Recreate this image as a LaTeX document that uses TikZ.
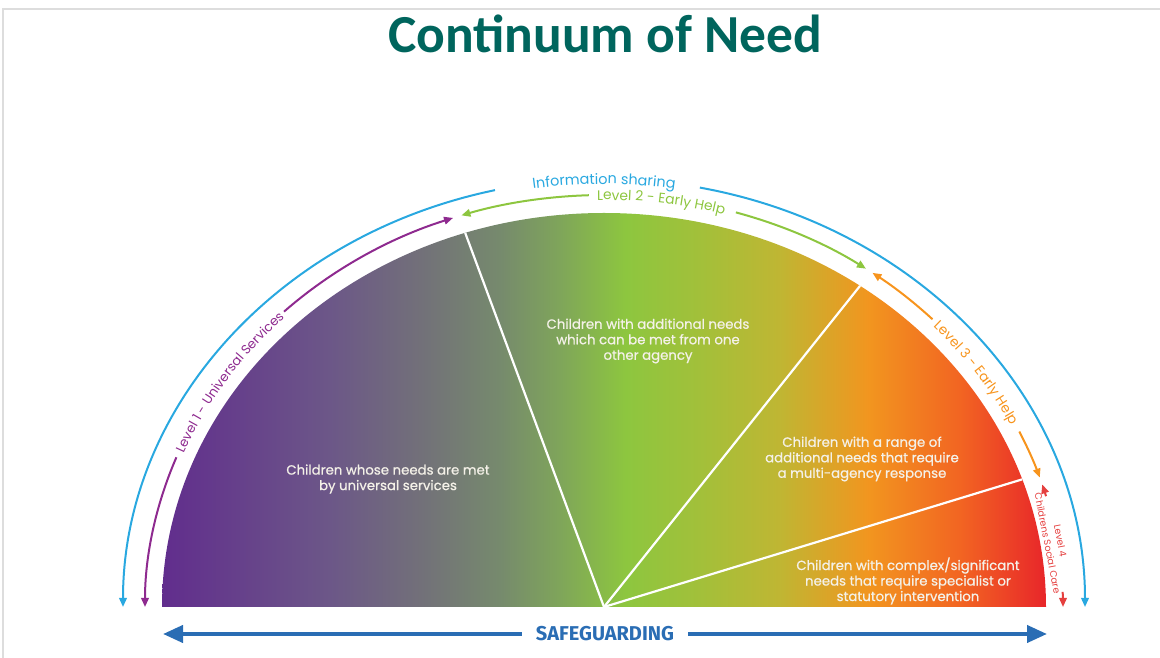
\documentclass[tikz,border=0pt]{standalone}
\usepackage{fontspec}
\setmainfont{Poppins}
\newfontfamily\popbody[FakeBold=0.7]{Poppins}
\newfontfamily\titlefont{Carlito}
\newfontfamily\sgfont{Fira Sans}
\usetikzlibrary{arrows.meta,decorations.text}
\definecolor{titleteal}{HTML}{00655D}
\definecolor{bordergray}{HTML}{DDDDDD}
\definecolor{infoblue}{HTML}{29A8E0}
\definecolor{lvpurple}{HTML}{8E2A8F}
\definecolor{lvgreen}{HTML}{8DC63F}
\definecolor{lvorange}{HTML}{F7941D}
\definecolor{lvred}{HTML}{E5403F}
\definecolor{sgblue}{HTML}{2A6DB4}
\definecolor{txtwhite}{HTML}{F4F1E8}
\definecolor{s1}{HTML}{612D8D}
\definecolor{s2}{HTML}{6C5788}
\definecolor{s3}{HTML}{727079}
\definecolor{s4}{HTML}{768A6D}
\definecolor{s5}{HTML}{7FA55A}
\definecolor{s6}{HTML}{8DC63F}
\definecolor{s7}{HTML}{A2C03A}
\definecolor{s8}{HTML}{BFB633}
\definecolor{s9}{HTML}{F2951F}
\definecolor{s10}{HTML}{F26522}
\definecolor{s11}{HTML}{E8262A}
\pgfdeclarehorizontalshading{needshade}{100bp}{color(0bp)=(s1); color(25bp)=(s1); color(34.5bp)=(s2); color(39.6bp)=(s3); color(44.1bp)=(s4); color(47.5bp)=(s5); color(51.2bp)=(s6); color(55.4bp)=(s7); color(59.9bp)=(s8); color(65bp)=(s9); color(70.1bp)=(s10); color(75bp)=(s11); color(100bp)=(s11)}
\tikzset{
  divider/.style={draw=white, line width=2.2pt},
  piece/.style={text=txtwhite, align=center, font=\popbody\fontsize{13.3}{15.5}\selectfont, inner sep=0pt},
  curved/.style={decorate, decoration={text along path, text align=center, text color=#1}},
}
\begin{document}
\begin{tikzpicture}[x=1pt,y=1pt,
  >={Triangle[length=9pt,width=7.5pt]}]
\useasboundingbox (0,0) rectangle (1160,658);
\draw[bordergray, line width=2pt] (3,0) -- (3,649) -- (1160,649);
\node[text=titleteal, font=\titlefont\bfseries\fontsize{53.5}{53.5}\selectfont, anchor=base, inner sep=0pt] (title) at (605,605) {Continuum of Need};

\begin{scope}[shift={(604,51)}]
  \coordinate (C) at (0,0);
  \shade[shading=needshade] (442,0) arc[start angle=0,end angle=180,x radius=442,y radius=394] -- cycle;
  \coordinate (d1) at (108.3:442pt and 394pt);
  \coordinate (d2) at (54.6:442pt and 394pt);
  \coordinate (d3) at (18.9:442pt and 394pt);
  \draw[divider] (C) -- (d1);
  \draw[divider] (C) -- (d2);
  \draw[divider] (C) -- (d3);

  % information sharing (outer blue)
  \draw[infoblue, line width=2pt, ->] (103.1:481pt and 428pt) arc[start angle=103.1,end angle=180,x radius=481pt,y radius=428pt];
  \draw[infoblue, line width=2pt, ->] (78.5:481pt and 428pt) arc[start angle=78.5,end angle=0,x radius=481pt,y radius=428pt];
  \path[curved=infoblue, decoration={text={|\fontsize{14.4}{14.4}\selectfont|Information sharing}}] (115:472pt and 423pt) arc[start angle=115,end angle=65,x radius=472pt,y radius=423pt];

  % level 1
  \draw[lvpurple, line width=2pt, <-] (180:459pt and 412pt) arc[start angle=180,end angle=158.7,x radius=459pt,y radius=412pt];
  \draw[lvpurple, line width=2pt, ->] (134.2:459pt and 412pt) arc[start angle=134.2,end angle=109.2,x radius=459pt,y radius=412pt];
  \path[curved=lvpurple, decoration={text={|\fontsize{13}{13}\selectfont|Level 1 - Universal Services}}] (166.5:454pt and 407pt) arc[start angle=166.5,end angle=126.5,x radius=454pt,y radius=407pt];

  % level 2
  \draw[lvgreen, line width=2pt, <-] (108.1:459pt and 412pt) arc[start angle=108.1,end angle=91.9,x radius=459pt,y radius=412pt];
  \draw[lvgreen, line width=2pt, ->] (73.3:459pt and 412pt) arc[start angle=73.3,end angle=55.2,x radius=459pt,y radius=412pt];
  \path[curved=lvgreen, decoration={text={|\fontsize{13.8}{13.8}\selectfont|Level 2 - Early Help}}] (102.7:454pt and 407pt) arc[start angle=102.7,end angle=62.7,x radius=454pt,y radius=407pt];

  % level 3
  \draw[lvorange, line width=2pt, <-] (54.2:459pt and 412pt) arc[start angle=54.2,end angle=44.3,x radius=459pt,y radius=412pt];
  \draw[lvorange, line width=2pt, ->] (25.2:459pt and 412pt) arc[start angle=25.2,end angle=18.3,x radius=459pt,y radius=412pt];
  \path[curved=lvorange, decoration={text={|\fontsize{13.6}{13.6}\selectfont|Level 3 - Early Help}}] (54.7:454pt and 407pt) arc[start angle=54.7,end angle=14.7,x radius=454pt,y radius=407pt];

  % level 4
  \draw[lvred, line width=2pt, <-] (17.3:459pt and 412pt) arc[start angle=17.3,end angle=15.6,x radius=459pt,y radius=412pt];
  \draw[lvred, line width=2pt, ->] (2.1:459pt and 412pt) arc[start angle=2.1,end angle=0,x radius=459pt,y radius=412pt];
\end{scope}

\node[text=lvred, align=center, rotate=-79, font=\fontsize{9.5}{13}\selectfont, inner sep=0pt] (lv4) at (1054,116) {Level 4\\Childrens Social Care};

\node[piece] (p1) at (388,179) {Children whose needs are met\\by universal services};
\node[piece] (p2) at (648,317) {Children with additional needs\\which can be met from one\\other agency};
\node[piece] (p3) at (862,199) {Children with a range of\\additional needs that require\\a multi-agency response};
\node[piece] (p4) at (908,77) {Children with complex/significant\\needs that require specialist or\\statutory intervention};

\coordinate (sgL) at (163,24);
\coordinate (sgR) at (1047,24);
\draw[sgblue, line width=4pt, {Triangle[length=20pt,width=17pt]}-{Triangle[length=20pt,width=17pt]}] (sgL) -- (sgR);
\node[fill=white, text=sgblue, font=\sgfont\bfseries\fontsize{20}{20}\selectfont, inner xsep=14pt, inner ysep=3pt] (sg) at (605,24) {SAFEGUARDING};
\end{tikzpicture}
\end{document}
